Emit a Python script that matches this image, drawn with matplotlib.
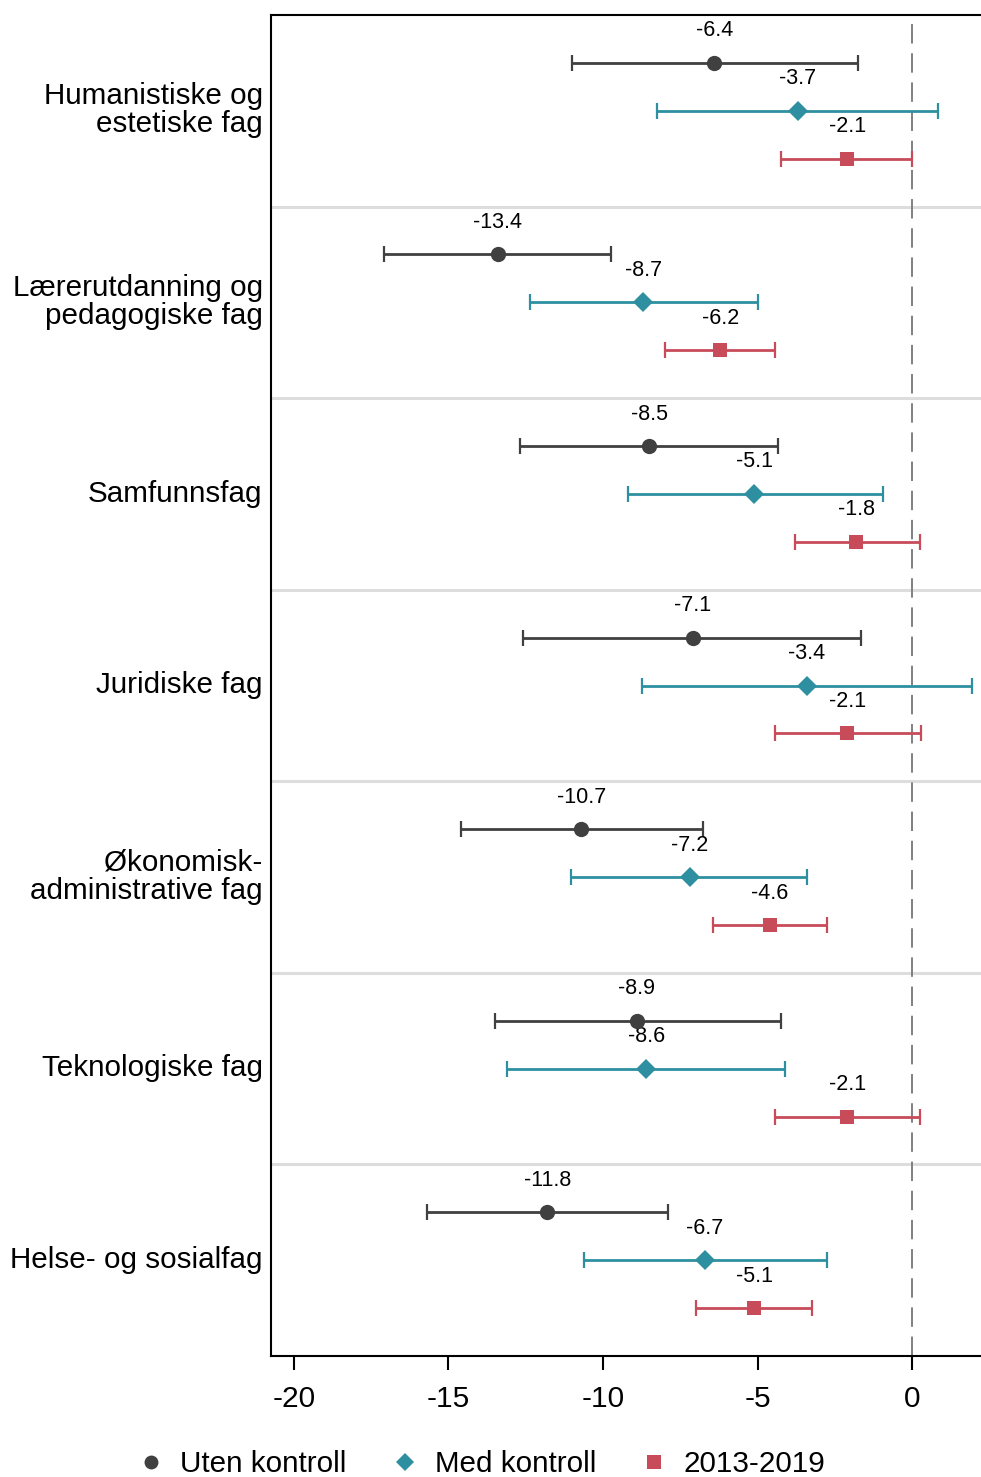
import numpy as np
import matplotlib.pyplot as plt
from matplotlib.lines import Line2D

plt.rcParams['font.family'] = ['Liberation Sans', 'DejaVu Sans']

# categories (top to bottom)
categories = ['Humanistiske og\nestetiske fag', 'Lærerutdanning og\npedagogiske fag',
              'Samfunnsfag', 'Juridiske fag', 'Økonomisk-\nadministrative fag',
              'Teknologiske fag', 'Helse- og sosialfag']

series = ['Uten kontroll', 'Med kontroll', '2013-2019']

# point estimates
uten = [-6.4, -13.4, -8.5, -7.1, -10.7, -8.9, -11.8]
med = [-3.7, -8.7, -5.1, -3.4, -7.2, -8.6, -6.7]
y1319 = [-2.1, -6.2, -1.8, -2.1, -4.6, -2.1, -5.1]

# confidence intervals (low, high)
uten_lo = [-11.0, -17.1, -12.7, -12.6, -14.6, -13.5, -15.7]
uten_hi = [-1.75, -9.75, -4.35, -1.65, -6.75, -4.25, -7.9]
med_lo = [-8.25, -12.35, -9.2, -8.75, -11.05, -13.1, -10.6]
med_hi = [0.85, -5.0, -0.95, 1.95, -3.4, -4.1, -2.75]
y1319_lo = [-4.25, -8.0, -3.8, -4.45, -6.45, -4.45, -7.0]
y1319_hi = [0.0, -4.45, 0.25, 0.3, -2.75, 0.25, -3.25]

colors = ['#404040', '#2e8fa0', '#c84b5a']
markers = ['o', 'D', 's']
msizes = [11, 10, 10]

fig = plt.figure(figsize=(9.81, 14.77), dpi=100)
ax = fig.add_axes([271 / 981, 121 / 1477, 1 - 271 / 981, 1341 / 1477])

n = len(categories)
base = np.arange(n) * 4

data = [(uten, uten_lo, uten_hi), (med, med_lo, med_hi), (y1319, y1319_lo, y1319_hi)]

for k, (est, lo, hi) in enumerate(data):
    est = np.array(est)
    err = np.vstack([est - np.array(lo), np.array(hi) - est])
    ypos = base + k + 1
    # error bars with caps
    ax.errorbar(est, ypos, xerr=err, fmt='none', ecolor=colors[k],
                elinewidth=2, capsize=5.5, capthick=1.6, zorder=3)
    # point markers on top
    ax.plot(est, ypos, ls='none', marker=markers[k], color=colors[k],
            markersize=msizes[k], markeredgewidth=0, zorder=4)
    for x, y in zip(est, ypos):
        ax.annotate(f'{x:.1f}', (x, y), xytext=(0, 23), textcoords='offset points',
                    ha='center', va='center', fontsize=15.5)

# group separators
for g in range(1, n):
    ax.axhline(g * 4, color='#dddddd', lw=2.2, zorder=1)

ax.axvline(0, color='#808080', lw=1.4, ls=(0, (10, 5)), zorder=2)

ax.set_xlim(-20.74, 2.23)
ax.set_ylim(n * 4, 0)
ax.set_yticks(base + 2 - 0.07)
ax.set_yticklabels(categories, fontsize=21.3, linespacing=1.0)
ax.tick_params(axis='y', length=0, pad=6)
ax.set_xticks([-20, -15, -10, -5, 0])
ax.set_xticklabels(['-20', '-15', '-10', '-5', '0'])
ax.tick_params(axis='x', length=10, width=1.5, labelsize=21.5, pad=11)

for s in ['left', 'bottom', 'top']:
    ax.spines[s].set_linewidth(1.5)
ax.spines['right'].set_visible(False)

handles = [Line2D([], [], ls='none', marker=markers[k], color=colors[k], markeredgewidth=0,
                  markersize=10 if k != 1 else 9)
           for k in range(3)]
fig.legend(handles, series, loc='center', bbox_to_anchor=(0.49, 1 - 1464 / 1477), ncol=3,
           frameon=False, fontsize=21.3, handletextpad=0.5, columnspacing=1.47, handlelength=1.0)

fig.savefig('out.png', dpi=100)
